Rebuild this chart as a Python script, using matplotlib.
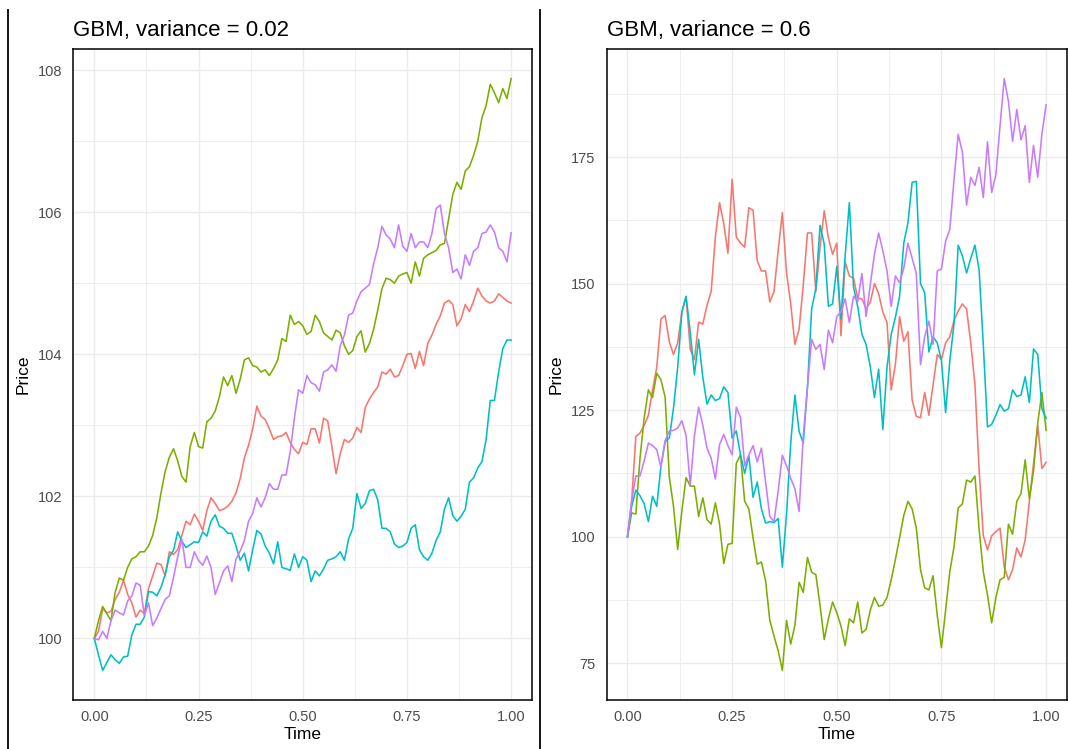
import numpy as np
import matplotlib
matplotlib.use("Agg")
import matplotlib.pyplot as plt
from matplotlib.lines import Line2D
from matplotlib.ticker import MultipleLocator

plt.rcParams['font.family'] = ['Liberation Sans', 'DejaVu Sans']

# time grid of the simulated paths (step 0.01)
time = np.arange(101) / 100

# ---- variance = 0.02 ----
low_red = [100.0, 100.1, 100.42, 100.36, 100.38, 100.55, 100.65, 100.82, 100.62, 100.5,
           100.3, 100.4, 100.35, 100.7, 100.88, 101.06, 101.04, 100.88, 101.22, 101.18,
           101.25, 101.45, 101.65, 101.6, 101.75, 101.65, 101.52, 101.8, 101.98, 101.9,
           101.8, 101.82, 101.86, 101.93, 102.05, 102.25, 102.54, 102.72, 102.95, 103.27,
           103.13, 103.08, 102.95, 102.8, 102.84, 102.85, 102.9, 102.76, 102.66, 102.6,
           102.76, 102.73, 102.95, 102.95, 102.75, 103.1, 103.06, 102.7, 102.32, 102.6,
           102.8, 102.76, 102.82, 102.97, 102.9, 103.25, 103.37, 103.46, 103.54, 103.75,
           103.72, 103.79, 103.68, 103.7, 103.84, 104.0, 104.01, 103.8, 104.04, 103.84,
           104.15, 104.27, 104.42, 104.54, 104.72, 104.76, 104.7, 104.4, 104.5, 104.7,
           104.6, 104.75, 104.93, 104.82, 104.75, 104.72, 104.75, 104.85, 104.8, 104.75,
           104.72]
low_green = [100.0, 100.25, 100.45, 100.35, 100.25, 100.65, 100.85, 100.82, 101.0, 101.12,
             101.15, 101.22, 101.22, 101.3, 101.45, 101.7, 102.05, 102.35, 102.55, 102.67,
             102.5, 102.28, 102.2, 102.7, 102.9, 102.7, 102.68, 103.05, 103.1, 103.2,
             103.4, 103.68, 103.56, 103.7, 103.45, 103.65, 103.92, 103.95, 103.84, 103.82,
             103.75, 103.78, 103.7, 103.8, 103.92, 104.22, 104.18, 104.55, 104.42, 104.46,
             104.4, 104.28, 104.32, 104.55, 104.46, 104.3, 104.25, 104.2, 104.34, 104.3,
             104.12, 104.0, 104.05, 104.25, 104.33, 104.03, 104.15, 104.35, 104.62, 104.92,
             105.07, 105.05, 105.0, 105.1, 105.13, 105.15, 105.0, 105.3, 105.1, 105.35,
             105.4, 105.43, 105.46, 105.54, 105.56, 105.9, 106.25, 106.42, 106.32, 106.58,
             106.64, 106.8, 107.0, 107.33, 107.5, 107.8, 107.68, 107.54, 107.74, 107.6,
             107.88]
low_cyan = [100.0, 99.77, 99.55, 99.66, 99.77, 99.7, 99.65, 99.74, 99.75, 100.05,
            100.2, 100.2, 100.3, 100.66, 100.65, 100.6, 100.72, 100.9, 101.15, 101.24,
            101.5, 101.37, 101.28, 101.32, 101.36, 101.35, 101.5, 101.44, 101.65, 101.74,
            101.58, 101.55, 101.48, 101.48, 101.3, 101.1, 101.2, 100.95, 101.25, 101.52,
            101.47, 101.3, 101.2, 101.05, 101.36, 101.0, 100.98, 100.96, 101.19, 101.0,
            101.15, 101.1, 100.8, 100.95, 100.88, 100.98, 101.1, 101.12, 101.15, 101.22,
            101.1, 101.4, 101.55, 102.04, 101.83, 101.9, 102.08, 102.1, 101.95, 101.55,
            101.55, 101.5, 101.33, 101.28, 101.3, 101.35, 101.55, 101.6, 101.25, 101.15,
            101.1, 101.2, 101.38, 101.5, 101.82, 101.98, 101.73, 101.65, 101.72, 101.82,
            102.2, 102.26, 102.4, 102.49, 102.8, 103.35, 103.35, 103.75, 104.08, 104.2,
            104.2]
low_purple = [100.0, 99.98, 100.1, 100.0, 100.25, 100.4, 100.36, 100.33, 100.53, 100.6,
              100.78, 100.75, 100.32, 100.5, 100.18, 100.29, 100.42, 100.55, 100.6, 100.86,
              101.15, 101.4, 101.0, 101.0, 101.22, 101.1, 101.03, 101.16, 101.0, 100.62,
              100.78, 100.95, 101.02, 100.8, 101.12, 101.23, 101.38, 101.65, 101.76, 101.98,
              101.85, 101.98, 102.18, 102.1, 102.1, 102.3, 102.3, 102.63, 103.1, 103.5,
              103.45, 103.7, 103.6, 103.57, 103.48, 103.75, 103.78, 103.85, 103.76, 104.12,
              104.27, 104.55, 104.58, 104.75, 104.88, 104.93, 104.98, 105.27, 105.5, 105.8,
              105.68, 105.62, 105.5, 105.82, 105.52, 105.45, 105.7, 105.5, 105.58, 105.58,
              105.5, 105.7, 106.05, 106.1, 105.7, 105.5, 105.15, 105.2, 105.06, 105.4,
              105.25, 105.45, 105.5, 105.7, 105.72, 105.82, 105.72, 105.5, 105.45, 105.3,
              105.71]

# ---- variance = 0.6 ----
high_red = [100, 107, 119.8, 120.5, 122, 124, 129, 133.5, 143, 143.7,
            138.5, 136, 138.3, 144.4, 147.4, 137, 135, 142.4, 142, 145.7,
            148.5, 159.2, 166, 161.9, 156, 170.6, 159.2, 158, 157.2, 165,
            164.5, 154.5, 152.5, 152.5, 146.4, 148.4, 156.5, 164, 152.1, 146,
            138, 141, 149.8, 160, 160, 148.4, 157.2, 164.4, 159, 155.8,
            158, 139.7, 154.3, 151.5, 151.1, 147.1, 147, 145, 146.3, 150,
            148, 144.4, 142.3, 129, 134, 143.5, 138.6, 140.5, 127, 123.8,
            123.5, 128.5, 124, 130, 136, 135, 138.3, 139.5, 142.7, 144.6,
            146, 145, 138.3, 130.1, 113.2, 100.2, 97.4, 100.2, 101, 101.7,
            94, 91.5, 93.5, 97.8, 96, 99.4, 107, 114.5, 122, 113.5,
            114.7]
high_green = [100, 104.7, 104.5, 115.5, 123.5, 129, 127.5, 132.3, 131, 127.6,
              111.8, 106, 97.5, 105.1, 111.7, 110, 110, 104, 107.7, 103.4,
              102.5, 106.7, 102.5, 94.7, 98.5, 98.7, 114.5, 116.2, 107, 105.5,
              99.8, 94.6, 95, 91.3, 83.5, 80.4, 77.5, 73.6, 83.5, 78.8,
              82.5, 91, 89, 95.9, 93, 92.5, 86.5, 79.7, 83.8, 87.1,
              85, 82.4, 78.5, 83.8, 83, 87.1, 81, 81.7, 85.5, 88,
              86.3, 86.5, 88, 91.5, 95.5, 99.8, 104.2, 107, 105.5, 101.7,
              93.5, 89.9, 89.5, 92.3, 84.5, 78.1, 85.5, 93.1, 98, 105.7,
              106.5, 111.2, 110.8, 112, 101.5, 93.1, 88.5, 83, 88, 91.5,
              92, 102.5, 100.5, 107, 108.5, 115.2, 107.5, 113, 122.5, 128.5,
              121]
high_cyan = [100, 106, 109.2, 108.1, 106.5, 103, 108, 106, 114, 118.8,
             119.5, 125.4, 133.5, 144.4, 147.5, 140.4, 132, 139, 131.5, 126.2,
             128, 126.9, 127.3, 129.6, 128.5, 119.5, 120.9, 116.2, 112.5, 116,
             107.8, 110.8, 105.5, 102.7, 103, 102.8, 103.6, 94, 104.5, 118.5,
             128, 120.8, 118.5, 129.6, 145, 149, 161.5, 157.8, 145.5, 146,
             153.4, 143, 155.5, 166, 149.3, 145.5, 140, 138, 133.6, 127.5,
             133.1, 121.2, 133.5, 140, 143.3, 147.5, 158, 162, 170, 170.2,
             150, 148.2, 136.5, 139.5, 138.3, 134.8, 124.5, 134.8, 142, 157.6,
             155.5, 152.1, 155, 157.6, 152.7, 137.9, 121.7, 122.2, 124, 126.1,
             124.8, 125.3, 129, 127.7, 128, 131.6, 126.5, 137.1, 136, 125.3,
             123.4]
high_purple = [100, 107, 112, 112, 115, 118.5, 118, 117.2, 113.7, 119,
               120.9, 121, 121.5, 122.9, 120, 110.1, 120, 125.6, 122, 117.5,
               115.5, 111.4, 118.2, 120.2, 118, 116.2, 125.6, 123.6, 114, 116.2,
               118, 114.8, 117.5, 110.8, 104, 103, 109, 116.1, 114, 111.5,
               109.5, 105, 120, 129.6, 139, 137, 138, 133, 140.8, 138.3,
               143.5, 144.4, 147, 142.3, 147.5, 146.5, 152, 143.5, 149.8, 155.8,
               160, 156.5, 152.5, 145.5, 151.5, 150.2, 153, 158, 155, 152,
               134, 139.5, 142.6, 138, 152.5, 152.9, 158.4, 160.7, 170.5, 179.5,
               176, 165.5, 171, 169.4, 173, 167, 178, 168, 171.5, 181.2,
               190.5, 186, 178.1, 184.4, 178.4, 181.2, 170, 177.3, 171, 179.6,
               185.3]

colors = ['#F8766D', '#7CAE00', '#00BFC4', '#C77CFF']
panels = [
    ("GBM, variance = 0.02", [low_red, low_green, low_cyan, low_purple], 2, 1),
    ("GBM, variance = 0.6", [high_red, high_green, high_cyan, high_purple], 25, 12.5),
]

fig = plt.figure(figsize=(10.68, 7.49), dpi=100)
rects = [[0.0688, 0.0654, 0.4293, 0.8692], [0.5679, 0.0654, 0.4312, 0.8692]]

for rect, (title, series, major, minor) in zip(rects, panels):
    ax = fig.add_axes(rect)
    for vals, c in zip(series, colors):
        ax.plot(time, vals, color=c, lw=1.15, zorder=3)
    ax.margins(x=0.05, y=0.05)
    ax.xaxis.set_major_locator(MultipleLocator(0.25))
    ax.xaxis.set_minor_locator(MultipleLocator(0.125))
    ax.yaxis.set_major_locator(MultipleLocator(major))
    ax.yaxis.set_minor_locator(MultipleLocator(minor))
    ax.xaxis.set_major_formatter(lambda v, p: f"{v:.2f}")
    ax.grid(which='major', color='#EBEBEB', lw=1.0, zorder=0)
    ax.grid(which='minor', color='#EBEBEB', lw=0.6, zorder=0)
    ax.tick_params(which='both', length=0, labelsize=10.5, labelcolor='#4D4D4D')
    ax.tick_params(axis='y', pad=8)
    ax.tick_params(axis='x', pad=7)
    for s in ax.spines.values():
        s.set_color('black')
        s.set_linewidth(1.1)
    ax.set_xlabel("Time", fontsize=12.5, labelpad=2)
    ax.set_ylabel("Price", fontsize=12.5, labelpad=5)
    ax.set_title(title, loc='left', fontsize=16, pad=9)

# separator lines at the left of each plot
for xf in [8 / 1068, 540 / 1068]:
    fig.add_artist(Line2D([xf, xf], [0, 1 - 10 / 749], color='black', lw=1.3))

fig.savefig("out.png", dpi=100)
